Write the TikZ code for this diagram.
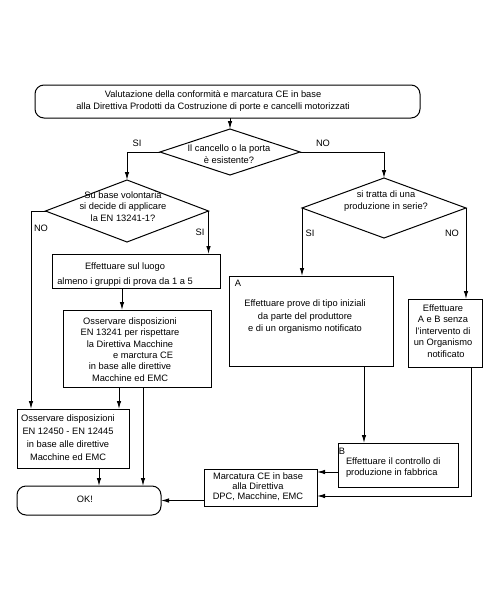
\documentclass[tikz,border=0pt]{standalone}
\usepackage{fontspec}
\setmainfont{Liberation Sans}
\usetikzlibrary{shapes.geometric,arrows.meta}
\begin{document}
\begin{tikzpicture}[x=1pt,y=-1pt,
  every node/.style={inner sep=0pt,outer sep=0pt},
  box/.style={draw,line width=1pt,rectangle},
  rbox/.style={draw,line width=1pt,rectangle,rounded corners=9pt},
  dia/.style={draw,line width=1pt,diamond},
  txt/.style={font=\fontsize{9.3}{11.5}\selectfont,align=center},
  lbl/.style={font=\fontsize{9.3}{11}\selectfont},
  arr/.style={line width=1pt,-{Latex[length=8pt,width=4.5pt]}},
  ln/.style={line width=1pt}
]
\useasboundingbox (0,0) rectangle (500,600);
\fill[white] (0,0) rectangle (500,600);

% column / row coordinates
\coordinate (xa) at (31,0);
\coordinate (xb) at (122,0);
\coordinate (xc) at (119,0);
\coordinate (xd) at (143,0);
\coordinate (xe) at (99,0);
\coordinate (xf) at (364,0);
\coordinate (xg) at (471,0);
\coordinate (yb) at (0,472);
\coordinate (yr) at (0,496);

% shapes
\node[rbox,minimum width=385,minimum height=33] (top) at (227.5,101.5) {};
\node[txt] (toptxt) at (213,101) {Valutazione della conformità e marcatura CE in base\\alla Direttiva Prodotti da Costruzione di porte e cancelli motorizzati};

\node[dia,minimum width=140,minimum height=46] (d1) at (230,152) {};
\node[txt] (d1txt) at (229,154) {Il cancello o la porta\\è esistente?};

\node[dia,minimum width=163,minimum height=62] (d2) at (127,211) {};
\node[txt] (d2txt) at (123,206.5) {Su base volontaria\\si decide di applicare\\la EN 13241-1?};

\node[dia,minimum width=164,minimum height=60] (d3) at (384,208) {};
\node[txt] (d3txt) at (386,201) {si tratta di una\\produzione in serie?};

\node[box,minimum width=168,minimum height=34] (E1) at (136,271) {};
\node[txt,font=\fontsize{9.3}{15}\selectfont] (E1txt) at (125,274.5) {Effettuare sul luogo\\almeno i gruppi di prova da 1 a 5};

\node[box,minimum width=148,minimum height=77] (O1) at (137,348.5) {};
\node[txt,font=\fontsize{9.3}{11.4}\selectfont] (O1txt) at (130,349.5) {Osservare disposizioni\\EN 13241 per rispettare\\la Direttiva Macchine\\\hspace*{26pt}e marctura CE\\in base alle direttive\\Macchine ed EMC};

\node[box,minimum width=112,minimum height=59] (O2) at (73,438.5) {};
\node[txt,font=\fontsize{9.3}{13}\selectfont] (O2txt) at (68,437.5) {Osservare disposizioni\\EN 12450 - EN 12445\\in base alle direttive\\Macchine ed EMC};

\node[rbox,minimum width=144,minimum height=29] (OK) at (89,500.5) {};
\node[txt] (OKtxt) at (85,499) {OK!};

\node[box,minimum width=113,minimum height=37] (Marc) at (260.5,487.5) {};
\node[txt,font=\fontsize{9.3}{10}\selectfont] (Marctxt) at (258,487) {Marcatura CE in base\\alla Direttiva\\DPC, Macchine, EMC};

\node[box,minimum width=164,minimum height=90] (A) at (311,321) {};
\node[lbl] (Alab) at (238,283) {A};
\node[txt,font=\fontsize{9.3}{12.5}\selectfont] (Atxt) at (305,317) {Effettuare prove di tipo iniziali\\da parte del produttore\\e di un organismo notificato};

\node[box,minimum width=74,minimum height=68] (R) at (445,333) {};
\node[txt,font=\fontsize{9.3}{11.5}\selectfont] (Rtxt) at (443,331) {Effettuare\\A e B senza\\l'intervento di\\un Organismo\\\hspace*{6pt}notificato};

\node[box,minimum width=120,minimum height=44] (B) at (398,465) {};
\node[lbl] (Blab) at (342,451) {B};
\node[txt,align=left,anchor=west,font=\fontsize{9.3}{11}\selectfont] (Btxt) at (346,467.5) {Effettuare il controllo di\\produzione in fabbrica};

% labels
\node[lbl] (s1) at (137,143) {SI};
\node[lbl] (n1) at (323,143) {NO};
\node[lbl] (n2) at (41,228) {NO};
\node[lbl] (s2) at (200,232) {SI};
\node[lbl] (s3) at (310,233) {SI};
\node[lbl] (n3) at (452,233) {NO};

% connectors
\draw[arr] (d1.north |- top.south) -- (d1.north);
\draw[arr] (d1.west) -| (d2.north);
\draw[arr] (d1.east) -| (d3.north);
\draw[arr] (d2.west) -| (O2.north -| xa);
\draw[arr] (d2.east) -- (d2.east |- E1.north);
\draw[arr] (E1.south -| xb) -- (O1.north -| xb);
\draw[arr] (O1.south -| xc) -- (O2.north -| xc);
\draw[arr] (O1.south -| xd) -- (OK.north -| xd);
\draw[arr] (O2.south -| xe) -- (OK.north -| xe);
\draw[arr] (Marc.west |- OK.east) -- (OK.east);
\draw[arr] (d3.west) -- (d3.west |- A.north);
\draw[arr] (d3.east) -- (d3.east |- R.north);
\draw[arr] (A.south -| xf) -- (B.north -| xf);
\draw[arr] (B.west |- yb) -- (Marc.east |- yb);
\draw[arr] (R.south -| xg) |- (Marc.east |- yr);
\end{tikzpicture}
\end{document}
